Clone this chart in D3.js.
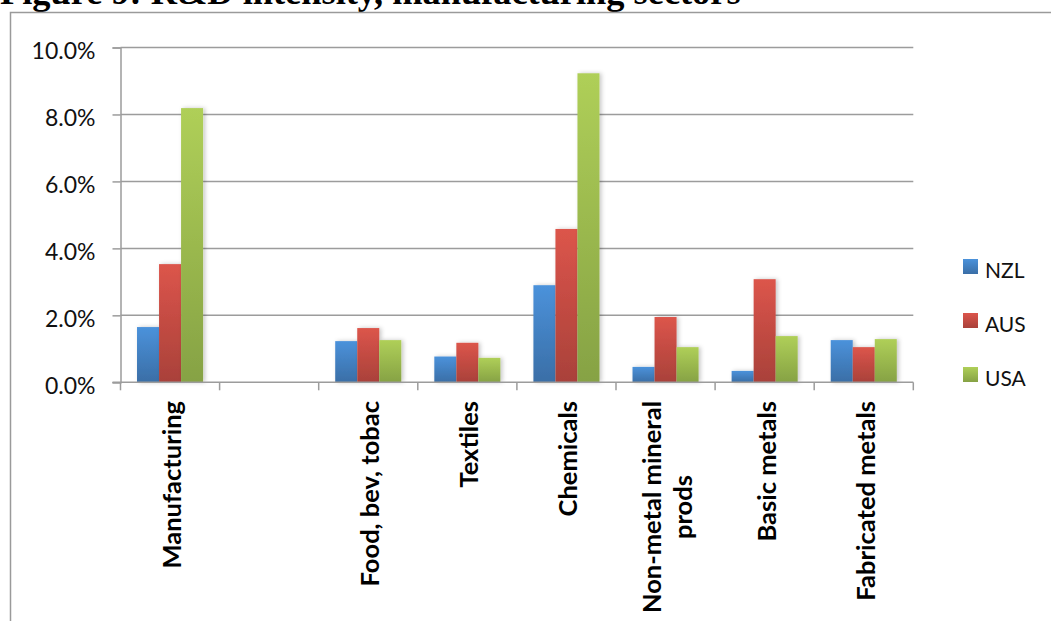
<!DOCTYPE html>
<html>
<head>
<meta charset="utf-8">
<script src="https://cdn.jsdelivr.net/npm/d3@7"></script>
<style>
  html, body { margin: 0; padding: 0; background: #fff; overflow: hidden; }
  svg { display: block; }
</style>
</head>
<body>
<svg id="chart" width="1051" height="621"></svg>
<script>
// R&D intensity by manufacturing sector (percent)
const categories = ["Manufacturing", "", "Food, bev, tobac", "Textiles", "Chemicals",
                    "Non-metal mineral\nprods", "Basic metals", "Fabricated metals"];
const seriesNames = ["NZL", "AUS", "USA"];
const nzl = [1.65, null, 1.23, 0.77, 2.90, 0.46, 0.34, 1.26];
const aus = [3.53, null, 1.62, 1.18, 4.58, 1.95, 3.08, 1.05];
const usa = [8.19, null, 1.26, 0.73, 9.23, 1.05, 1.38, 1.29];
const yTicks = [0, 2, 4, 6, 8, 10];
const titleText = "Figure 9: R&D intensity, manufacturing sectors";

const seriesValues = [nzl, aus, usa];
const colors = [
  { top: "#4b92db", bottom: "#3a6ea6" },
  { top: "#dc554b", bottom: "#a9413a" },
  { top: "#afcf58", bottom: "#86a244" }
];

const svg = d3.select("#chart");
const defs = svg.append("defs");

colors.forEach((c, i) => {
  const g = defs.append("linearGradient")
    .attr("id", "grad" + i).attr("x1", 0).attr("y1", 0).attr("x2", 0).attr("y2", 1);
  g.append("stop").attr("offset", "0%").attr("stop-color", c.top);
  g.append("stop").attr("offset", "100%").attr("stop-color", c.bottom);
});

const shadow = defs.append("filter").attr("id", "shadow")
  .attr("x", "-30%").attr("y", "-10%").attr("width", "160%").attr("height", "120%");
shadow.append("feDropShadow").attr("dx", 2).attr("dy", 0).attr("stdDeviation", 2)
  .attr("flood-color", "#000").attr("flood-opacity", 0.22);

const sans = "Lato, 'Open Sans', sans-serif";

// Title, sitting above the chart frame
const title = svg.append("text")
  .attr("x", 0).attr("y", 4)
  .attr("font-family", "'Liberation Serif', 'Times New Roman', serif")
  .attr("font-weight", "bold")
  .attr("font-size", 34)
  .attr("fill", "#000")
  .text(titleText);
const tw = title.node().getComputedTextLength();
title.attr("font-size", 34 * 741 / tw);

// Chart frame
svg.append("rect")
  .attr("x", 10.5).attr("y", 12.5).attr("width", 1100).attr("height", 700)
  .attr("fill", "none").attr("stroke", "#9a9a9a").attr("stroke-width", 1.5);

// Scales
const plotLeft = 120.5, plotRight = 913.3, plotTop = 47.5, plotBottom = 382.3;
const x = d3.scaleBand().domain(d3.range(categories.length)).range([plotLeft, plotRight]).padding(0);
const xs = d3.scaleBand().domain(d3.range(seriesNames.length)).range([0, x.bandwidth()])
  .paddingInner(0).paddingOuter(0.75);
const y = d3.scaleLinear().domain([0, 10]).range([plotBottom, plotTop]);

// Gridlines
svg.append("g").selectAll("line").data(yTicks.filter(d => d > 0)).join("line")
  .attr("x1", plotLeft).attr("x2", plotRight)
  .attr("y1", d => y(d)).attr("y2", d => y(d))
  .attr("stroke", "#9c9c9c").attr("stroke-width", 1.5);

// Y axis
const yAxis = svg.append("g")
  .attr("transform", `translate(${plotLeft},0)`)
  .call(d3.axisLeft(y).tickValues(yTicks).tickSize(8).tickPadding(17)
    .tickFormat(d => d3.format(".1f")(d) + "%"));
yAxis.select(".domain").attr("stroke", "#9c9c9c").attr("stroke-width", 1.5);
yAxis.selectAll(".tick line").attr("stroke", "#9c9c9c").attr("stroke-width", 1.5);
yAxis.selectAll(".tick text")
  .attr("font-family", sans).attr("font-size", 23).attr("fill", "#111")
  .attr("dy", "0.48em");

// Bars
const groups = svg.append("g").selectAll("g")
  .data(seriesValues).join("g")
  .attr("fill", (d, i) => `url(#grad${i})`)
  .attr("filter", "url(#shadow)");
groups.each(function(vals, si) {
  d3.select(this).selectAll("rect")
    .data(vals.map((v, ci) => ({ v, ci })).filter(d => d.v != null))
    .join("rect")
    .attr("x", d => x(d.ci) + xs(si))
    .attr("width", xs.bandwidth())
    .attr("y", d => y(d.v))
    .attr("height", d => y(0) - y(d.v));
});

// X axis (baseline with tick marks at category boundaries)
const xAxisG = svg.append("g");
xAxisG.append("line")
  .attr("x1", plotLeft - 8).attr("x2", plotRight)
  .attr("y1", plotBottom).attr("y2", plotBottom)
  .attr("stroke", "#9c9c9c").attr("stroke-width", 1.5);
const bounds = d3.range(categories.length + 1).map(i => i < categories.length ? x(i) : plotRight);
xAxisG.selectAll("line.tk").data(bounds).join("line").attr("class", "tk")
  .attr("x1", d => d).attr("x2", d => d)
  .attr("y1", plotBottom).attr("y2", plotBottom + 8)
  .attr("stroke", "#9c9c9c").attr("stroke-width", 1.5);

// Rotated category labels, anchored at the top, lines centered within the block
const labelSize = 25.5, lineH = 31;
categories.forEach((c, i) => {
  if (!c) return;
  const lines = c.split("\n");
  const cx = x(i) + x.bandwidth() / 2 + 2;
  const g = svg.append("g").attr("transform", `translate(${cx},401) rotate(-90)`);
  const texts = lines.map((ln, k) => g.append("text")
    .attr("font-family", sans).attr("font-weight", "bold")
    .attr("font-size", labelSize).attr("fill", "#000")
    .attr("y", (k - (lines.length - 1) / 2) * lineH)
    .attr("dy", "0.35em")
    .text(ln));
  const maxW = d3.max(texts, t => t.node().getComputedTextLength());
  texts.forEach(t => t.attr("text-anchor", "middle").attr("x", -maxW / 2));
});

// Legend
const legend = svg.append("g").selectAll("g").data(seriesNames).join("g")
  .attr("transform", (d, i) => `translate(963,${259 + i * 54})`);
legend.append("rect").attr("width", 15).attr("height", 15)
  .attr("fill", (d, i) => `url(#grad${i})`);
legend.append("text").attr("x", 22).attr("y", 11).attr("dy", "0.38em")
  .attr("font-family", sans).attr("font-size", 21).attr("fill", "#111")
  .text(d => d);
</script>
</body>
</html>
